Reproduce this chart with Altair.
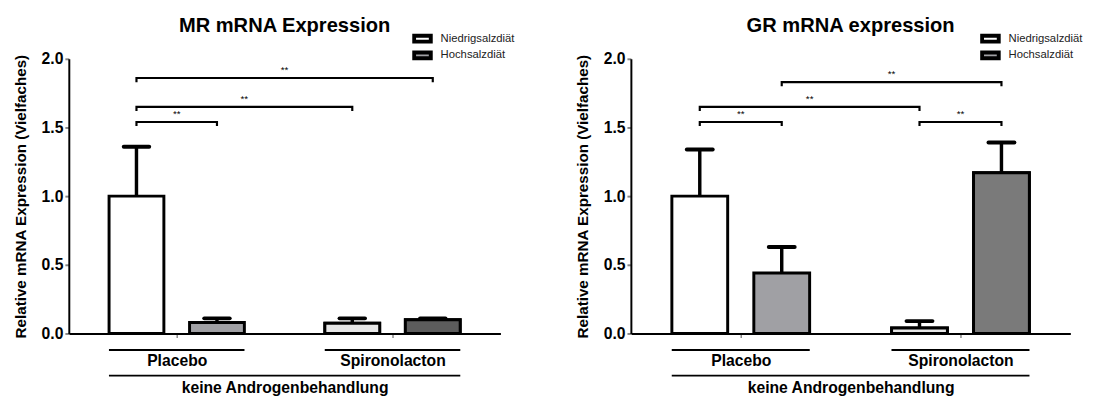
import json
import altair as alt
import pandas as pd

FONT = "Liberation Sans"

groups = ["Placebo", "Spironolacton"]
diets = ["Niedrigsalzdiät", "Hochsalzdiät"]

# bar order: Placebo/Niedrig, Placebo/Hoch, Spiro/Niedrig, Spiro/Hoch
mr_mean = [1.00, 0.08, 0.075, 0.10]
mr_err = [0.36, 0.03, 0.035, 0.01]
gr_mean = [1.00, 0.44, 0.04, 1.17]
gr_err = [0.34, 0.19, 0.05, 0.22]

# significance brackets: (bar a, bar b, level, label)
mr_sig = [(0, 1, 1.54, "**"), (0, 2, 1.65, "**"), (0, 3, 1.86, "**")]
gr_sig = [(0, 1, 1.54, "**"), (2, 3, 1.54, "**"), (0, 2, 1.65, "**"), (1, 3, 1.83, "**")]

OFF = 0.373      # slot offset within a group (in group units)
HALF = 0.127     # half bar width
CAP = 0.059      # half cap width
BAND = 0.314     # half width of group underline
DROP = 0.03      # bracket leg length


def slot(i):
    g, d = divmod(i, 2)
    return g + 0.5 + (d - 0.5) * OFF


def panel(title, means, errs, sig, width, spiro_fill, legend_x):
    rows = []
    for i, (m, e) in enumerate(zip(means, errs)):
        g, d = divmod(i, 2)
        p = slot(i)
        rows.append(dict(group=groups[g], diet=diets[d], mean=m, top=m + e,
                         pos=p, lo=p - HALF, hi=p + HALF, clo=p - CAP, chi=p + CAP))
    bars = pd.DataFrame(rows)

    brows, trows = [], []
    for k, (a, b, lev, lab) in enumerate(sig):
        xa, xb = slot(a), slot(b)
        for o, (xx, yy) in enumerate([(xa, lev - DROP), (xa, lev), (xb, lev), (xb, lev - DROP)]):
            brows.append(dict(id=k, o=o, x=xx, y=yy))
        trows.append(dict(x=(xa + xb) / 2, y=lev, t=lab))
    br = pd.DataFrame(brows)
    tx = pd.DataFrame(trows)

    under = pd.DataFrame(
        [dict(x=g + 0.5 - BAND, x2=g + 0.5 + BAND, y=-0.12) for g in range(len(groups))]
        + [dict(x=0.5 - BAND, x2=1.5 + BAND, y=-0.307)]
    )

    xscale = alt.Scale(domain=[0, 2], nice=False, zero=False)
    yscale = alt.Scale(domain=[0, 2], nice=False)
    labexpr = json.dumps(groups, ensure_ascii=False) + "[floor(datum.value)]"

    xaxis = alt.Axis(values=[0.5, 1.5], labelExpr=labexpr, grid=False,
                     tickSize=4, tickWidth=1.5, labelPadding=16,
                     labelFontSize=16, labelFontWeight="bold", labelFont=FONT,
                     labelColor="black", title="keine Androgenbehandlung",
                     titleFontSize=16, titleFontWeight="bold", titleFont=FONT,
                     titlePadding=11, titleColor="black",
                     domainColor="black", domainWidth=2)
    yaxis = alt.Axis(values=[0, 0.5, 1.0, 1.5, 2.0], format=".1f", grid=False,
                     tickSize=4, tickWidth=2, labelPadding=2,
                     labelFontSize=16, labelFontWeight="bold", labelFont=FONT,
                     labelColor="black",
                     title="Relative mRNA Expression (Vielfaches)",
                     titleFontSize=15.5, titleFontWeight="bold", titleFont=FONT,
                     titleColor="black", titlePadding=13,
                     domainColor="black", domainWidth=2)

    base = alt.Chart(bars)
    bar = base.mark_bar(stroke="black", strokeWidth=3).encode(
        x=alt.X("lo:Q", scale=xscale, axis=xaxis),
        x2="hi:Q",
        y=alt.Y("mean:Q", scale=yscale, axis=yaxis),
        y2=alt.datum(0),
        fill=alt.Fill("diet:N", scale=alt.Scale(domain=diets, range=["white", "#a0a0a4"]),
                      legend=alt.Legend(title=None, orient="none", legendX=legend_x, legendY=-28,
                                        symbolType="M-1,-0.353H1V0.353H-1Z", symbolSize=289,
                                        symbolStrokeColor="black", symbolStrokeWidth=4,
                                        clipHeight=15, rowPadding=2, padding=0,
                                        labelFontSize=11.5, labelFont=FONT, labelColor="#222",
                                        labelOffset=8)),
    )
    over = base.transform_filter(alt.datum.group == groups[1]).mark_bar(
        stroke="black", strokeWidth=3).encode(
        x="lo:Q", x2="hi:Q", y="mean:Q", y2=alt.datum(0),
        fill=alt.condition(alt.datum.diet == diets[0], alt.value(spiro_fill[0]), alt.value(spiro_fill[1])),
    )
    stem = base.mark_rule(color="black", strokeWidth=3.5).encode(
        x="pos:Q", y="mean:Q", y2="top:Q")
    cap = base.mark_rule(color="black", strokeWidth=4, strokeCap="round").encode(
        x="clo:Q", x2="chi:Q", y="top:Q")

    brk = alt.Chart(br).mark_line(color="black", strokeWidth=2.2, strokeJoin="miter").encode(
        x="x:Q", y="y:Q", detail="id:N", order="o:Q")
    stars = alt.Chart(tx).mark_text(fontSize=10, font=FONT, baseline="bottom", dy=-3, color="black").encode(
        x="x:Q", y="y:Q", text="t:N")
    lines = alt.Chart(under).mark_rule(color="black", strokeWidth=2).encode(
        x="x:Q", x2="x2:Q", y="y:Q")

    return alt.layer(bar, over, stem, cap, brk, stars, lines).properties(
        width=width, height=280,
        title=alt.TitleParams(title, fontSize=20.5, fontWeight="bold", font=FONT,
                              anchor="middle", color="black", offset=-5),
    )


left = panel("MR mRNA Expression", mr_mean, mr_err, mr_sig, 440, ["#e6e6e6", "#5c5c5c"], 350)
right = panel("GR mRNA expression", gr_mean, gr_err, gr_sig, 448, ["#e6e6e6", "#7a7a7a"], 356)

chart = (
    alt.hconcat(left, right, spacing=61)
    .resolve_scale(fill="independent")
    .resolve_legend(fill="independent")
    .properties(padding={"left": 5, "top": 4, "right": 5, "bottom": 0})
    .configure_view(stroke=None)
    .configure_concat(spacing=61)
)

chart.save("out.html", embed_options={"renderer": "svg", "actions": False})
